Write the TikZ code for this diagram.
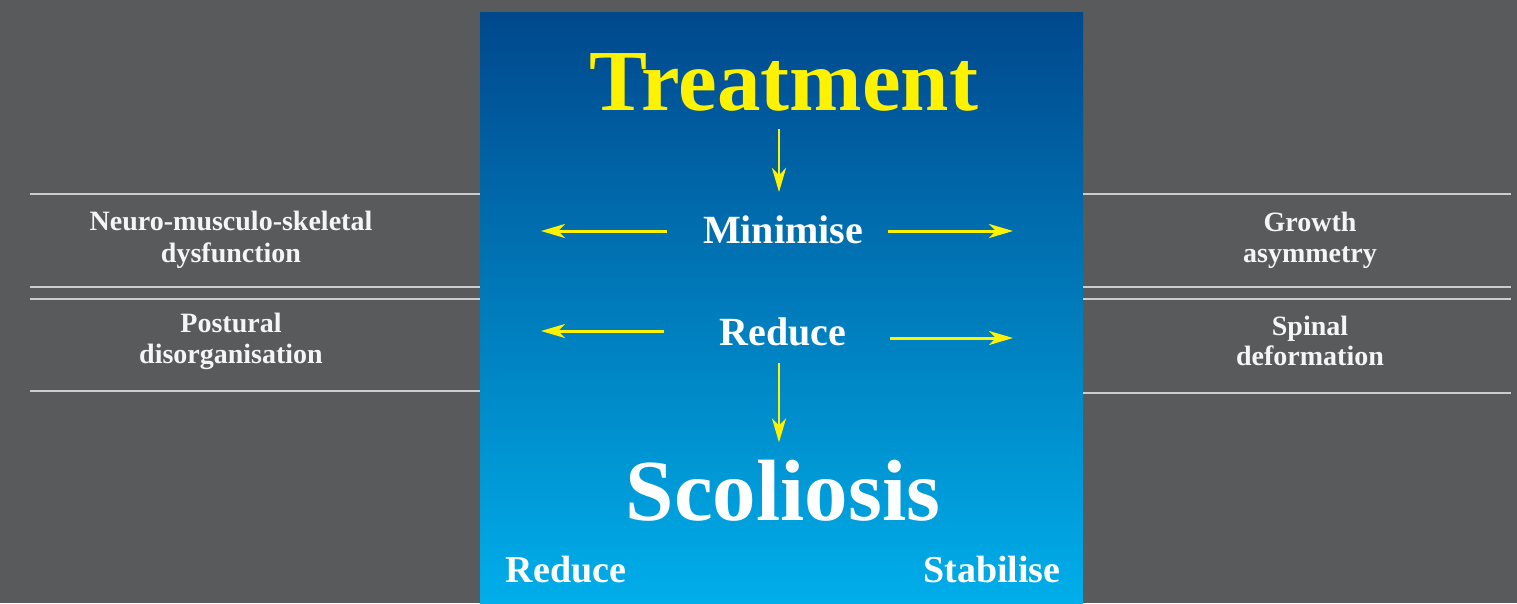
\documentclass[tikz,border=0pt]{standalone}
\usepackage{fontspec}
\setmainfont{Liberation Serif}
\usetikzlibrary{arrows.meta}
\definecolor{bggray}{RGB}{89,90,92}
\definecolor{bluetop}{RGB}{0,72,140}
\definecolor{bluebot}{RGB}{0,174,234}
\definecolor{yel}{RGB}{255,242,0}
\definecolor{rule}{RGB}{205,205,205}
\definecolor{lbl}{RGB}{245,245,245}
\begin{document}
\begin{tikzpicture}[x=1pt,y=-1pt,
  txt/.style={inner sep=0pt,anchor=base,text=white,font=\bfseries},
  big/.style={txt,font=\bfseries\fontsize{87}{87}\selectfont},
  mid/.style={txt,font=\bfseries\fontsize{40}{40}\selectfont},
  bot/.style={txt,font=\bfseries\fontsize{38}{38}\selectfont},
  side/.style={txt,text=lbl,font=\bfseries\fontsize{28}{28}\selectfont},
  arr/.style={draw=yel,line width=3pt,-{Stealth[length=24pt,width=14pt,inset=7pt]}},
  varr/.style={arr,line width=2.6pt},
  sep/.style={draw=rule,line width=1.4pt}]
\useasboundingbox (0,0) rectangle (1517,603);
\fill[bggray] (0,0) rectangle (1517,603);
\shade[top color=bluetop,bottom color=bluebot] (480,12) rectangle (1083,603);
% separator rules
\draw[sep] (30,194) -- (480,194);
\draw[sep] (30,287) -- (480,287);
\draw[sep] (30,299) -- (480,299);
\draw[sep] (30,391) -- (480,391);
\draw[sep] (1083,194) -- (1511,194);
\draw[sep] (1083,287) -- (1511,287);
\draw[sep] (1083,299) -- (1511,299);
\draw[sep] (1083,393) -- (1511,393);
% central texts
\node[big,text=yel] (treat) at (784,110) {Treatment};
\node[mid] (mini) at (783,243) {Minimise};
\node[mid] (red) at (783,345) {Reduce};
\node[big] (scol) at (783,520) {Scoliosis};
\node[bot] (redb) at (566,582) {Reduce};
\node[bot] (stab) at (992,582) {Stabilise};
% side texts
\node[side] (nms1) at (231,230) {Neuro-musculo-skeletal};
\node[side] (nms2) at (231,262) {dysfunction};
\node[side] (pos1) at (231,332) {Postural};
\node[side] (pos2) at (231,363) {disorganisation};
\node[side] (gro1) at (1310,231) {Growth};
\node[side] (gro2) at (1310,262) {asymmetry};
\node[side] (spi1) at (1310,335) {Spinal};
\node[side] (spi2) at (1310,365) {deformation};
% arrow free ends
\coordinate (ml) at (541,231);
\coordinate (mr) at (1013,231);
\coordinate (rl) at (541,331);
\coordinate (rr) at (1013,338);
% arrows
\draw[varr] (treat.south -| 779,0) ++(0,18) -- ([yshift=23pt]mini.north -| 779,0);
\draw[arr] (mini.west |- ml) ++(-36,0) -- (ml);
\draw[arr] (mini.east |- mr) ++(25,0) -- (mr);
\draw[arr] (red.west |- rl) ++(-55,0) -- (rl);
\draw[arr] (red.east |- rr) ++(43,0) -- (rr);
\draw[varr] (red.south -| 779,0) ++(0,17) -- ([yshift=17pt]scol.north -| 779,0);
\end{tikzpicture}
\end{document}
